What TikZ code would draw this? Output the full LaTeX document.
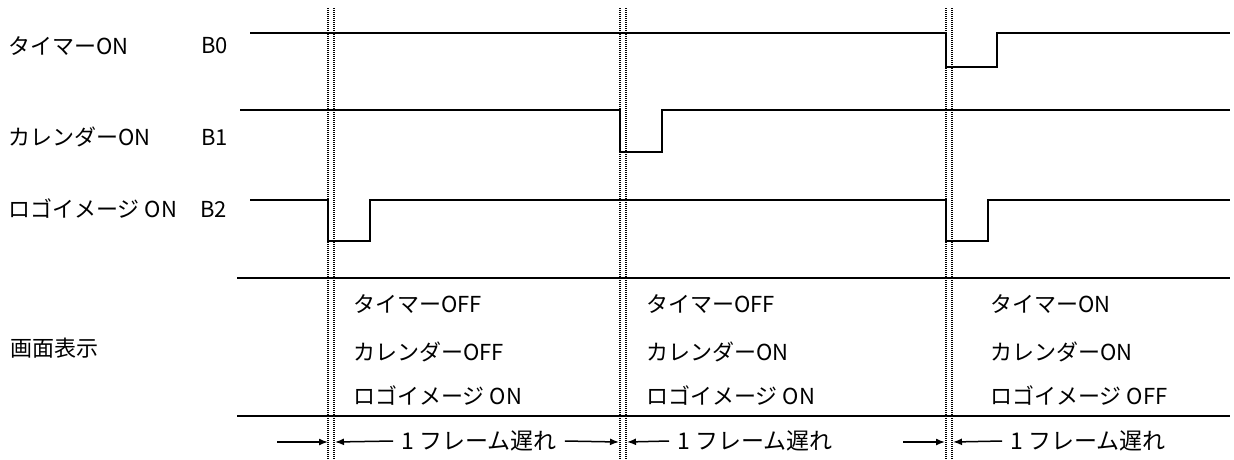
\documentclass[tikz,border=0pt]{standalone}
\usepackage{fontspec}
\setmainfont{Noto Sans CJK JP}
\usepackage{tikz}
\usetikzlibrary{arrows.meta}

\begin{document}
\begin{tikzpicture}[x=1pt,y=-1pt,
    lbl/.style={font=\fontsize{22}{26}\selectfont, anchor=west, inner sep=0pt},
    sig/.style={line width=1.8pt},
    dots/.style={line width=1.3pt, dash pattern=on 1pt off 1pt},
    arr/.style={line width=1.5pt, -{Latex[length=9pt,width=7pt]}}]
      \useasboundingbox (0,0) rectangle (1234,459);
      % signals
      \draw[sig] (250,33) -- (946,33) -- (946,67) -- (997,67) -- (997,33) -- (1230,33);
      \draw[sig] (240,110) -- (620,110) -- (620,152) -- (662,152) -- (662,110) -- (1230,110);
      \draw[sig] (250,200) -- (328,200) -- (328,241) -- (370,241) -- (370,200) -- (946,200) -- (946,241) -- (988,241) -- (988,200) -- (1230,200);
      \draw[sig] (237,278) -- (1230,278);
      \draw[sig] (237,416) -- (1230,416);
      \foreach \x in {328,334,620,626,946,952}
        \draw[dots] (\x,8) -- (\x,459);
      % labels
      \node[lbl] (timer) at (8,46) {タイマーON};
      \node[lbl] (cal) at (8,137) {カレンダーON};
      \node[lbl] (logo) at (8,209) {ロゴイメージ ON};
      \node[lbl] (b0) at (201,46) {B0};
      \node[lbl] (b1) at (201,137) {B1};
      \node[lbl] (b2) at (200,209) {B2};
      \node[lbl] (disp) at (10,348) {画面表示};
      \node[lbl] (s1a) at (353,304) {タイマーOFF};
      \node[lbl] (s1b) at (353,352) {カレンダーOFF};
      \node[lbl] (s1c) at (353,396) {ロゴイメージ ON};
      \node[lbl] (s2a) at (646,304) {タイマーOFF};
      \node[lbl] (s2b) at (646,352) {カレンダーON};
      \node[lbl] (s2c) at (646,396) {ロゴイメージ ON};
      \node[lbl] (s3a) at (990,304) {タイマーON};
      \node[lbl] (s3b) at (990,352) {カレンダーON};
      \node[lbl] (s3c) at (990,396) {ロゴイメージ OFF};
      % delays
      \coordinate (m1a) at (328,442);
      \coordinate (m1b) at (335,442);
      \coordinate (m2a) at (619,442);
      \coordinate (m2b) at (627,442);
      \coordinate (m3a) at (945,442);
      \coordinate (m3b) at (953,442);
      \coordinate (p0) at (277,442);
      \coordinate (p2) at (903,442);
      \node[lbl, font=\fontsize{23}{27}\selectfont, anchor=center, inner sep=8pt] (f1) at (479,441) {1 フレーム遅れ};
      \node[lbl, font=\fontsize{23}{27}\selectfont, inner sep=8pt] (f2) at (669,441) {1 フレーム遅れ};
      \node[lbl, font=\fontsize{23}{27}\selectfont, inner sep=8pt] (f3) at (1002,441) {1 フレーム遅れ};
      \draw[arr] (p0) -- (m1a);
      \draw[arr] (f1.west) -- (m1b);
      \draw[arr] (f1.east) -- (m2a);
      \draw[arr] (f2.west) -- (m2b);
      \draw[arr] (p2) -- (m3a);
      \draw[arr] (f3.west) -- (m3b);
\end{tikzpicture}
\end{document}
